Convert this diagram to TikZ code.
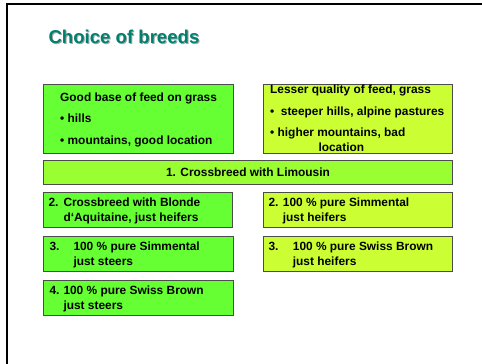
\documentclass[tikz,border=0pt]{standalone}
\usepackage{fontspec}
\setmainfont{Liberation Sans}
\definecolor{leftg}{HTML}{66FF33}
\definecolor{rightg}{HTML}{CCFF33}
\definecolor{midg}{HTML}{99FF33}
\definecolor{titlec}{HTML}{00806F}
\begin{document}
\begin{tikzpicture}[x=1pt,y=-1pt,
 box/.style={draw=black!70,line width=1pt,anchor=north west,inner sep=0pt,outer sep=0pt},
 lbox/.style={box,fill=leftg},
 rbox/.style={box,fill=rightg},
 txt/.style={anchor=base west,inner sep=0pt,font=\fontsize{11.9}{14}\selectfont\bfseries},
]
\useasboundingbox (0,0) rectangle (482,364);
\coordinate (bl) at (7,364);
\coordinate (tl) at (7,4);
\coordinate (tr) at (482,4);
\draw[line width=2pt] (bl) -- (tl) -- (tr);

% title
\node[anchor=base west,inner sep=0pt,text=black!35,font=\fontsize{18.6}{22}\selectfont\bfseries] (titles) at (49.3,44.3) {Choice of breeds};
\node[anchor=base west,inner sep=0pt,text=titlec,font=\fontsize{18.6}{22}\selectfont\bfseries] (title) at (48.3,43.3) {Choice of breeds};

% boxes
\node[lbox,minimum width=189.3pt,minimum height=68.6pt] (b1) at (43.7,84.7) {};
\node[rbox,minimum width=189pt,minimum height=68.6pt] (b2) at (263,84.7) {};
\node[box,fill=midg,minimum width=408.3pt,minimum height=23.3pt] (b3) at (43.7,160.7) {};
\node[lbox,minimum width=189.3pt,minimum height=34.6pt] (b4) at (43,192.7) {};
\node[rbox,minimum width=189pt,minimum height=34.6pt] (b5) at (263,192.7) {};
\node[lbox,minimum width=189.3pt,minimum height=34.6pt] (b6) at (43.7,236.7) {};
\node[rbox,minimum width=189pt,minimum height=34.6pt] (b7) at (263,236.7) {};
\node[lbox,minimum width=189.3pt,minimum height=34.6pt] (b8) at (43.7,280.7) {};

% box 1 text
\node[txt] (t1a) at (60,101.3) {Good base of feed on grass};
\node[txt] (t1b) at (60,122.7) {• hills};
\node[txt] (t1c) at (60,144) {• mountains, good location};

% box 2 text
\node[txt] (t2a) at (270,93.3) {Lesser quality of feed, grass};
\node[txt] (t2b) at (270,115.3) {•};
\node[txt] (t2bt) at (280.7,115.3) {steeper hills, alpine pastures};
\node[txt] (t2c) at (270,136.7) {• higher mountains, bad};
\node[txt] (t2d) at (318.3,151.3) {location};

% box 3
\node[txt,anchor=base] (t3) at (248,176.7) {1. Crossbreed with Limousin};

% box 4
\node[txt] (t4n) at (48.3,206.7) {2.};
\node[txt] (t4a) at (63.3,206.7) {Crossbreed with Blonde};
\node[txt] (t4b) at (63.3,221.7) {d‘Aquitaine, just heifers};

% box 5
\node[txt] (t5n) at (268.3,206.7) {2.};
\node[txt] (t5a) at (282.7,206.7) {100 \% pure Simmental};
\node[txt] (t5b) at (282.7,221.7) {just heifers};

% box 6
\node[txt] (t6n) at (49.3,250.7) {3.};
\node[txt] (t6a) at (73.3,250.7) {100 \% pure Simmental};
\node[txt] (t6b) at (73.3,265.3) {just steers};

% box 7
\node[txt] (t7n) at (268.3,250.7) {3.};
\node[txt] (t7a) at (292.7,250.7) {100 \% pure Swiss Brown};
\node[txt] (t7b) at (292.7,265.3) {just heifers};

% box 8
\node[txt] (t8n) at (49.3,294.7) {4.};
\node[txt] (t8a) at (63.3,294.7) {100 \% pure Swiss Brown};
\node[txt] (t8b) at (63.3,309.3) {just steers};
\end{tikzpicture}
\end{document}
